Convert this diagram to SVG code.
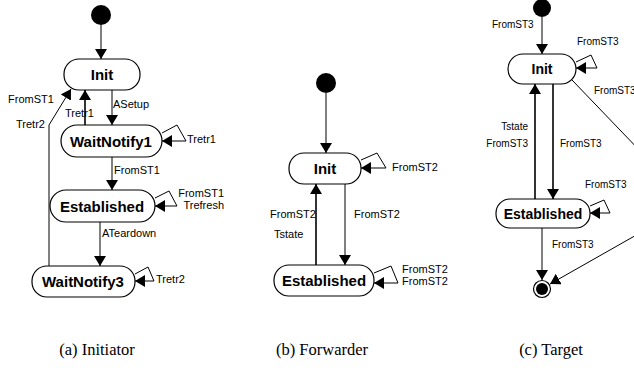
<svg xmlns="http://www.w3.org/2000/svg" width="634" height="371" viewBox="0 0 634 371">
  <style>
    .state rect { fill: #fff; stroke: #000; stroke-width: 1.2; }
    .name { font-family: "Liberation Sans", Arial, sans-serif; font-weight: bold; font-size: 15px; text-anchor: middle; fill: #000; }
    .name.sm { font-size: 14px; }
    .lbl { font-family: "Liberation Sans", Arial, sans-serif; font-size: 11px; fill: #000; }
    .lbl.sm { font-size: 10px; }
    .end { text-anchor: end; }
    .edge { fill: none; stroke: #000; stroke-width: 1; marker-end: url(#ah); }
    .edge.thick { stroke-width: 1.6; }
    .cap { font-family: "Liberation Serif", "Times New Roman", serif; font-size: 16.5px; text-anchor: middle; fill: #000; }
  </style>
  <defs>
    <marker id="ah" viewBox="0 0 10 12" refX="10" refY="6" markerWidth="10" markerHeight="12" markerUnits="userSpaceOnUse" orient="auto">
      <path d="M0,0 L10,6 L0,12 z" fill="#000"/>
    </marker>
  </defs>
  <rect width="634" height="371" fill="#fff"/>

  <!-- (a) Initiator -->
  <g id="a-start"><circle cx="101" cy="15" r="10" fill="#000"/></g>
  <g id="a-init" class="state"><rect x="64" y="59" width="76" height="31" rx="15"/><text class="name" x="102" y="80">Init</text></g>
  <g id="a-waitnotify1" class="state"><rect x="61" y="125" width="101" height="32" rx="16"/><text class="name" x="111" y="147">WaitNotify1</text></g>
  <g id="a-established" class="state"><rect x="50" y="190" width="105" height="32" rx="16"/><text class="name" x="102" y="212">Established</text></g>
  <g id="a-waitnotify3" class="state"><rect x="32" y="266" width="103" height="31" rx="15"/><text class="name" x="83" y="287">WaitNotify3</text></g>

  <g id="a-edges">
    <line class="edge" x1="101" y1="25" x2="101" y2="59"/>
    <line class="edge" x1="112" y1="90" x2="112" y2="125"/>
    <line class="edge thick" x1="85" y1="125" x2="85" y2="90"/>
    <polyline class="edge" points="49,266 49,125 71,89"/>
    <line class="edge" x1="112" y1="157" x2="112" y2="190"/>
    <line class="edge" x1="100" y1="222" x2="100" y2="266"/>
    <polyline class="edge" points="162,133 177,125 186,141 162,141"/>
    <polyline class="edge" points="155,198 169,191 177,206 155,206"/>
    <polyline class="edge" points="135,274 148,267 154,281 135,281"/>
  </g>
  <g id="a-labels">
    <text class="lbl" x="113" y="108">ASetup</text>
    <text class="lbl" x="65" y="117">Tretr1</text>
    <text class="lbl" x="8" y="103">FromST1</text>
    <text class="lbl" x="16" y="128">Tretr2</text>
    <text class="lbl" x="187" y="143">Tretr1</text>
    <text class="lbl" x="114" y="174">FromST1</text>
    <text class="lbl end" x="224" y="197">FromST1</text>
    <text class="lbl end" x="224" y="209">Trefresh</text>
    <text class="lbl" x="102" y="237">ATeardown</text>
    <text class="lbl" x="156" y="283">Tretr2</text>
  </g>

  <!-- (b) Forwarder -->
  <g id="b-start"><circle cx="326" cy="83" r="10" fill="#000"/></g>
  <g id="b-init" class="state"><rect x="289" y="153" width="72" height="31" rx="15"/><text class="name" x="325" y="174">Init</text></g>
  <g id="b-established" class="state"><rect x="274" y="265" width="100" height="31" rx="15"/><text class="name" x="324" y="286">Established</text></g>

  <g id="b-edges">
    <line class="edge" x1="326" y1="93" x2="326" y2="153"/>
    <line class="edge" x1="345" y1="184" x2="345" y2="265"/>
    <line class="edge thick" x1="316" y1="265" x2="316" y2="184"/>
    <polyline class="edge" points="361,160 377,153 386,168 361,168"/>
    <polyline class="edge" points="374,273 391,266 398,283 374,283"/>
  </g>
  <g id="b-labels">
    <text class="lbl" x="392" y="171">FromST2</text>
    <text class="lbl" x="270" y="218">FromST2</text>
    <text class="lbl" x="274" y="238">Tstate</text>
    <text class="lbl" x="354" y="218">FromST2</text>
    <text class="lbl" x="402" y="273">FromST2</text>
    <text class="lbl" x="402" y="285">FromST2</text>
  </g>

  <!-- (c) Target -->
  <g id="c-start"><circle cx="542" cy="8" r="9" fill="#000"/></g>
  <g id="c-init" class="state"><rect x="508" y="54" width="68" height="30" rx="15"/><text class="name sm" x="542" y="74">Init</text></g>
  <g id="c-established" class="state"><rect x="496" y="199" width="94" height="29" rx="14"/><text class="name sm" x="543" y="219">Established</text></g>
  <g id="c-final"><circle cx="542" cy="289" r="8.5" fill="#fff" stroke="#000" stroke-width="1.2"/><circle cx="542" cy="289" r="6" fill="#000"/></g>

  <g id="c-edges">
    <line class="edge" x1="542" y1="17" x2="542" y2="54"/>
    <polyline class="edge" points="576,62 591,55 597,68 576,68"/>
    <polyline class="edge" points="572,80 691,204 550,284"/>
    <line class="edge thick" x1="535" y1="199" x2="535" y2="84"/>
    <line class="edge thick" x1="553" y1="84" x2="553" y2="199"/>
    <polyline class="edge" points="590,206 604,200 610,213 590,213"/>
    <line class="edge" x1="542" y1="228" x2="542" y2="280"/>
  </g>
  <g id="c-labels">
    <text class="lbl sm" x="492" y="28">FromST3</text>
    <text class="lbl sm" x="577" y="45">FromST3</text>
    <text class="lbl sm" x="594" y="94">FromST3</text>
    <text class="lbl sm end" x="528" y="130">Tstate</text>
    <text class="lbl sm end" x="528" y="147">FromST3</text>
    <text class="lbl sm" x="560" y="147">FromST3</text>
    <text class="lbl sm" x="585" y="188">FromST3</text>
    <text class="lbl sm" x="552" y="248">FromST3</text>
  </g>

  <!-- captions -->
  <text class="cap" x="97" y="355">(a) Initiator</text>
  <text class="cap" x="322" y="355">(b) Forwarder</text>
  <text class="cap" x="551" y="355">(c) Target</text>
</svg>
